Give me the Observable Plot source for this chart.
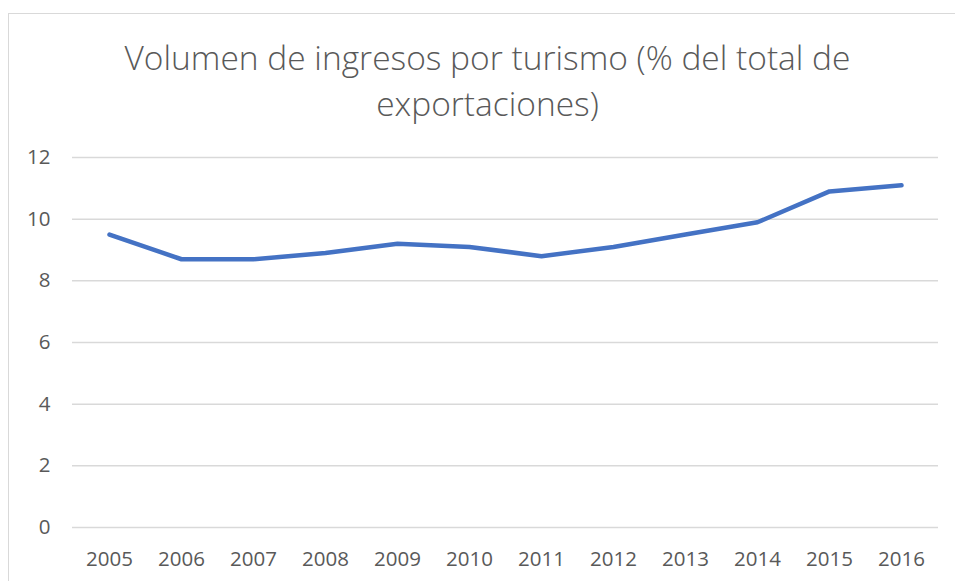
<!DOCTYPE html>
<html>
<head>
<meta charset="utf-8">
<script src="https://cdn.jsdelivr.net/npm/d3@7"></script>
<script src="https://cdn.jsdelivr.net/npm/@observablehq/plot@0.6"></script>
<style>
  html, body { margin: 0; padding: 0; background: #fff; overflow: hidden; }
  #wrap { position: relative; width: 955px; height: 581px; }
  #frame { position: absolute; left: 8px; top: 13px; width: 1000px; height: 700px; border: 1px solid #d9d9d9; box-sizing: border-box; }
  #title { position: absolute; left: 0; top: 34px; width: 975px; text-align: center; font-family: "Open Sans", sans-serif; font-weight: 300; font-size: 33.5px; line-height: 46px; color: #595959; }
  #chart { position: absolute; left: 0; top: 0; }
</style>
</head>
<body>
<div id="wrap">
  <div id="frame"></div>
  <div id="chart"></div>
  <div id="title">Volumen de ingresos por turismo (% del total de<br>exportaciones)</div>
</div>
<script>
const years = ["2005","2006","2007","2008","2009","2010","2011","2012","2013","2014","2015","2016"];
const values = [9.5, 8.7, 8.7, 8.9, 9.2, 9.1, 8.8, 9.1, 9.5, 9.9, 10.9, 11.1];
const yTicks = [0, 2, 4, 6, 8, 10, 12];

const data = years.map((y, i) => ({year: y, value: values[i]}));

const plot = Plot.plot({
  width: 955,
  height: 581,
  marginLeft: 72,
  marginRight: 17,
  marginTop: 157,
  marginBottom: 54,
  style: {fontFamily: "'Open Sans', sans-serif", fontSize: "20.5px", color: "#595959", background: "transparent"},
  x: {type: "point", domain: years, padding: 0.5, label: null},
  y: {domain: [0, 12], label: null},
  marks: [
    Plot.ruleY(yTicks, {stroke: "#d9d9d9", strokeWidth: 1.5}),
    Plot.axisY({ticks: yTicks, tickSize: 0, tickPadding: 22, label: null, fill: "#595959"}),
    Plot.axisX({tickSize: 0, tickPadding: 24, label: null, fill: "#595959"}),
    Plot.line(data, {x: "year", y: "value", stroke: "#4472C4", strokeWidth: 4.5, strokeLinecap: "round", strokeLinejoin: "round"})
  ]
});
document.getElementById("chart").appendChild(plot);
</script>
</body>
</html>
